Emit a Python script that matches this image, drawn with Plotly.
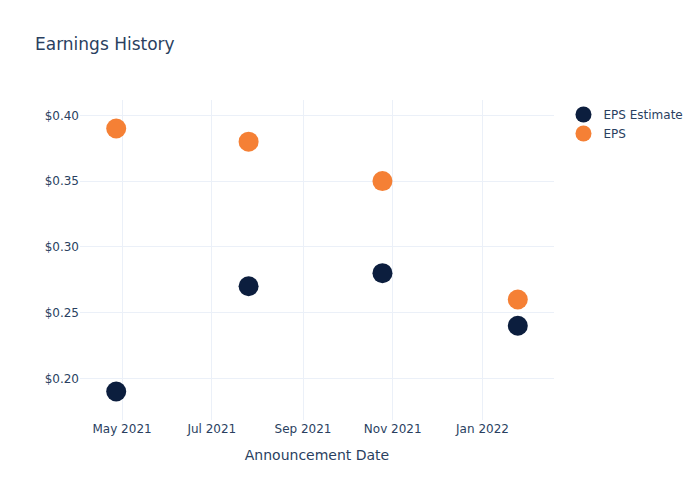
import plotly.graph_objects as go

dates = ["2021-04-27", "2021-07-26", "2021-10-25", "2022-01-25"]
eps_estimate = [0.19, 0.27, 0.28, 0.24]
eps_actual = [0.39, 0.38, 0.35, 0.26]

fig = go.Figure()
fig.add_trace(go.Scatter(x=dates, y=eps_estimate, mode="markers", name="EPS Estimate",
                         marker=dict(color="#0c1e3e", size=20)))
fig.add_trace(go.Scatter(x=dates, y=eps_actual, mode="markers", name="EPS",
                         marker=dict(color="#f58035", size=20)))
fig.update_layout(
    template="plotly_white",
    width=700, height=500,
    font=dict(family="DejaVu Sans"),
    title=dict(text="Earnings History"),
    xaxis=dict(title=dict(text="Announcement Date"), dtick="M2", tickformat="%b %Y"),
    yaxis=dict(tickformat="$.2f"),
)
fig.write_html("out.html", config={"displayModeBar": False},
               post_script="document.body.style.margin='0px';")
